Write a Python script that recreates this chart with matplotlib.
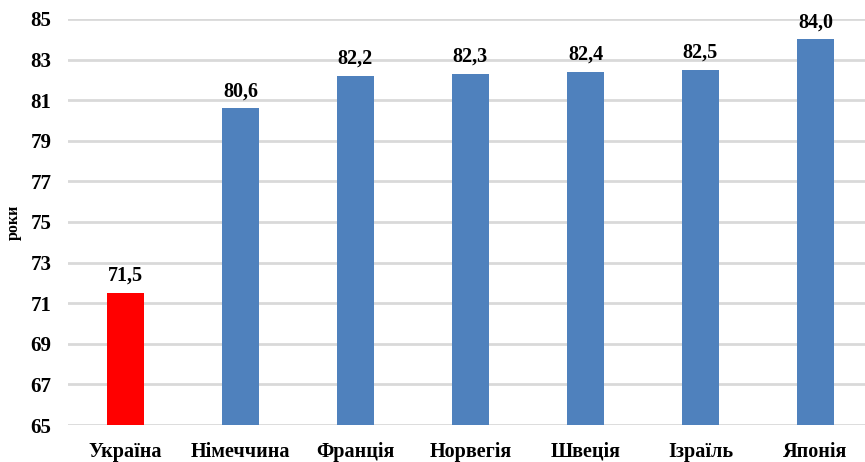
import matplotlib
matplotlib.use('Agg')
import matplotlib.pyplot as plt

# Дані
countries = ['Україна', 'Німеччина', 'Франція', 'Норвегія', 'Швеція', 'Ізраїль', 'Японія']
values = [71.5, 80.6, 82.2, 82.3, 82.4, 82.5, 84.0]
bar_colors = ['#FF0000', '#4F81BD', '#4F81BD', '#4F81BD', '#4F81BD', '#4F81BD', '#4F81BD']
y_ticks = [65, 67, 69, 71, 73, 75, 77, 79, 81, 83, 85]

plt.rcParams['font.family'] = ['Liberation Serif', 'DejaVu Serif']
plt.rcParams['font.weight'] = 'bold'

fig = plt.figure(figsize=(8.65, 4.62), dpi=100)
ax = fig.add_axes([0.0786, 0.080, 0.9306, 0.879])

x = range(len(countries))
bars = ax.bar(x, [v - 65 for v in values], bottom=65, width=0.32,
              color=bar_colors, zorder=3)

for xi, v in zip(x, values):
    ax.text(xi, v + 0.35, f'{v:.1f}'.replace('.', ','), ha='center', va='bottom',
            fontsize=14.5, fontweight='bold', zorder=4)

ax.set_xlim(-0.5, len(countries) - 0.5)
ax.set_ylim(65, 85)
ax.set_yticks(y_ticks)
ax.set_xticks(list(x))
ax.set_xticklabels(countries, fontsize=14.5, fontweight='bold')
ax.tick_params(axis='y', labelsize=15, length=0, pad=12)
ax.tick_params(axis='x', length=0, pad=12)
for lbl in ax.get_yticklabels():
    lbl.set_fontweight('bold')

ax.grid(axis='y', color='#D9D9D9', linewidth=2, zorder=0)
for s in ax.spines.values():
    s.set_visible(False)

ax.set_ylabel('роки', fontsize=11.5, fontweight='bold', labelpad=6)

fig.savefig('out.png', dpi=100)
